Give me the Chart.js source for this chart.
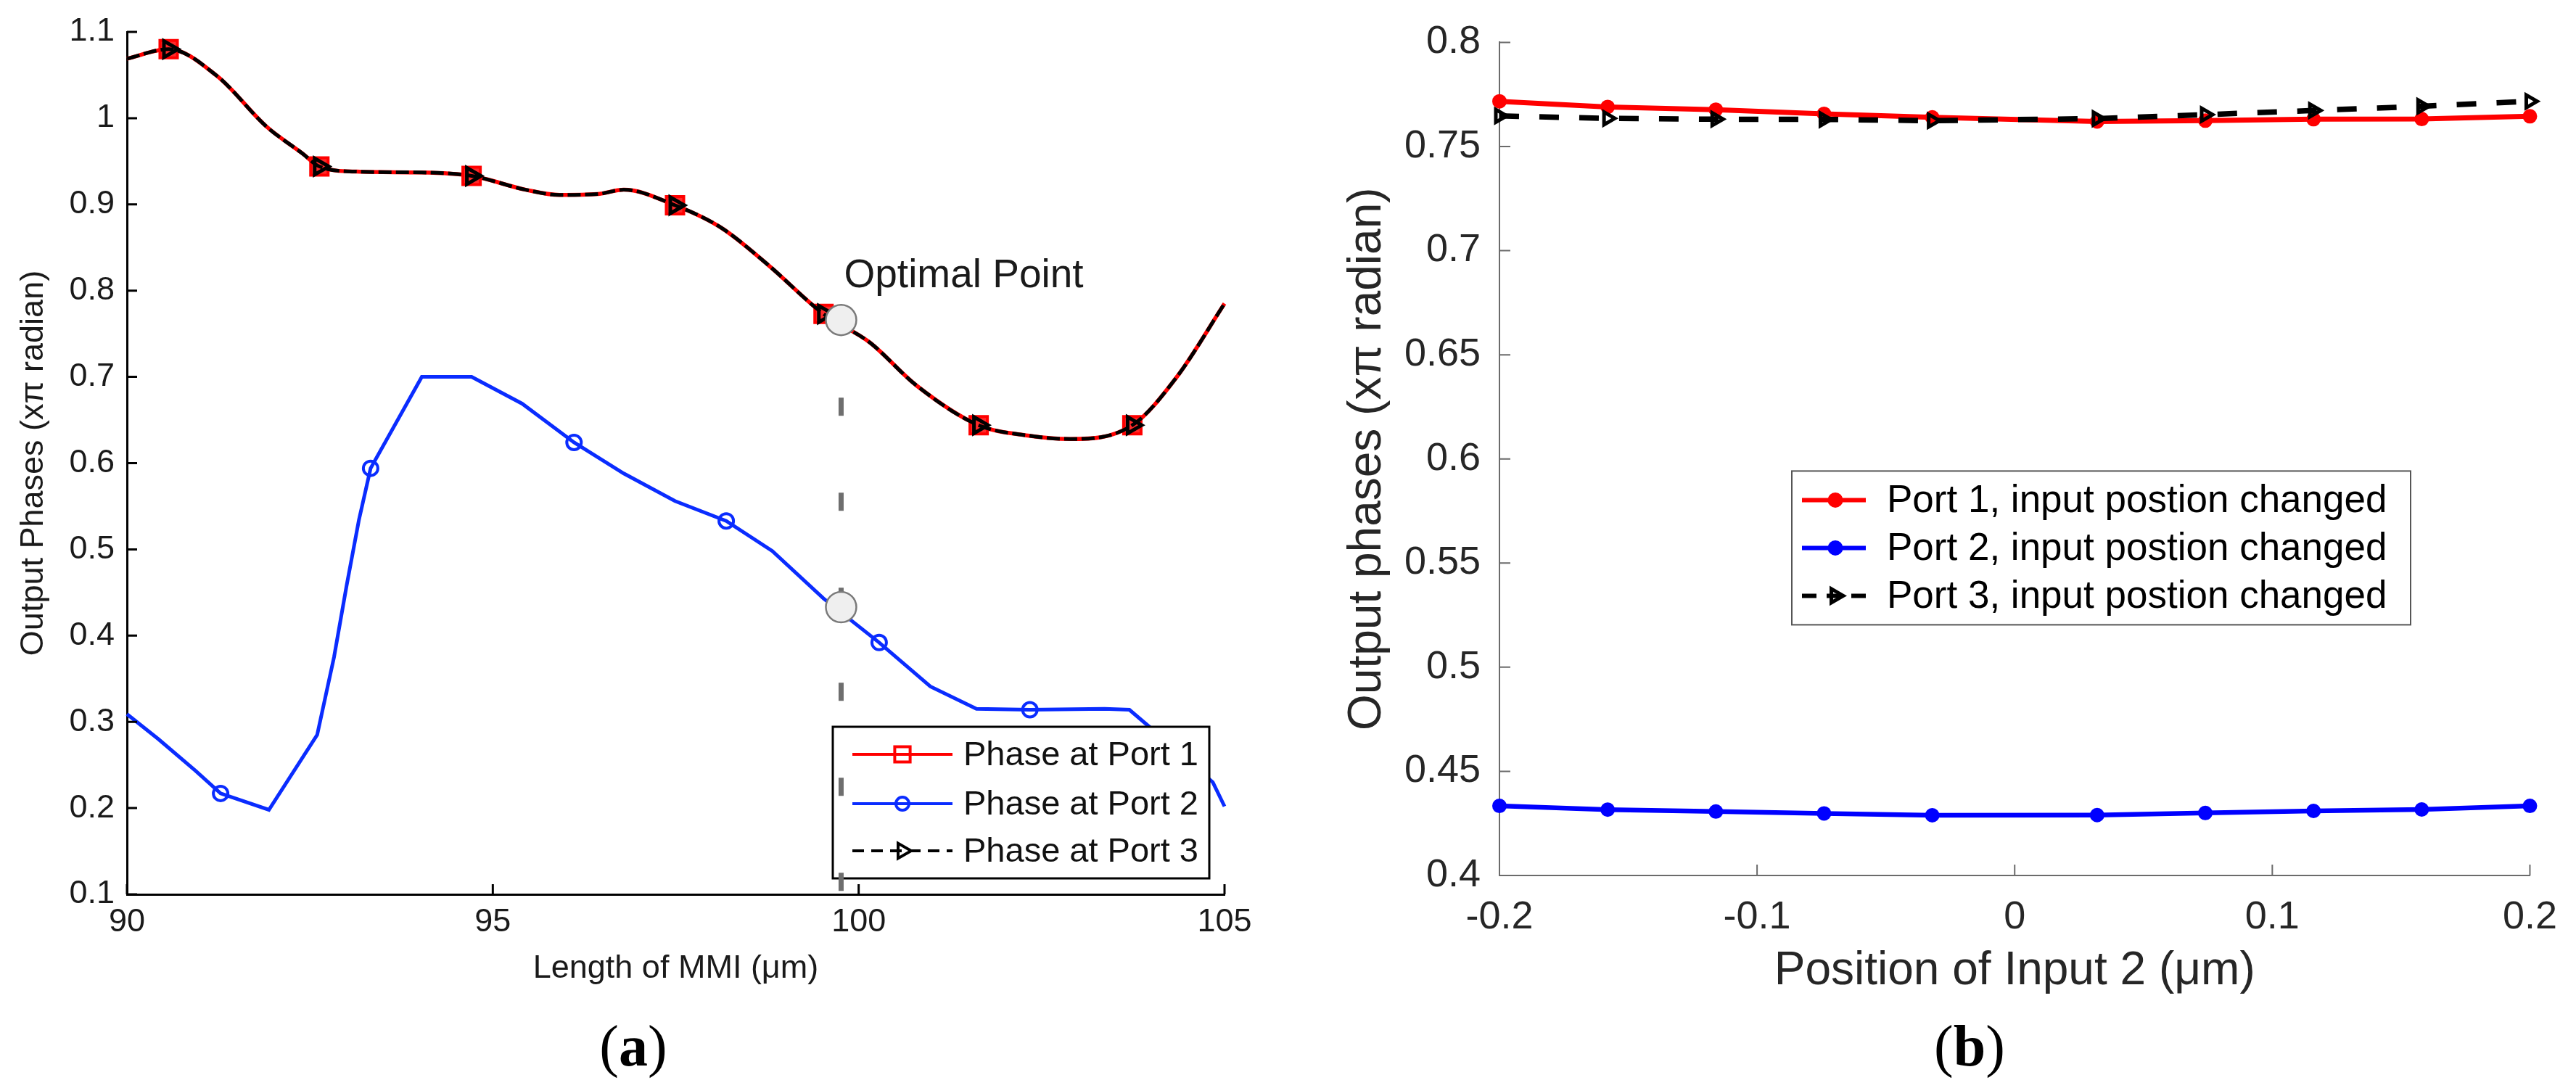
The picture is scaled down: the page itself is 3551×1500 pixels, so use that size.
<!DOCTYPE html>
<html><head><meta charset="utf-8">
<script src="https://cdn.jsdelivr.net/npm/chart.js@4.4.1/dist/chart.umd.min.js"></script>
<style>
html,body{margin:0;padding:0;background:#fff;width:3551px;height:1500px;overflow:hidden}
canvas{position:absolute;top:0}
#ca{left:0}
#cb{left:1775px}
.lab{position:absolute;top:1442px;transform:translate(-50%,-50%);font-family:"Liberation Serif","Times New Roman",serif;font-size:80px;color:#000;line-height:1;white-space:nowrap}
</style></head><body>
<canvas id="ca" width="1775" height="1500"></canvas>
<canvas id="cb" width="1776" height="1500"></canvas>
<div class="lab" style="left:873px">(<b>a</b>)</div>
<div class="lab" style="left:2715px">(<b>b</b>)</div>
<script>
// ---------- Panel (a) data ----------
const lengthA13 = [90.00, 90.57, 91.23, 91.91, 92.40, 92.63, 93.14, 94.03, 94.71, 95.45, 95.91, 96.43, 96.79, 97.49, 98.12, 98.76, 99.52, 100.15, 100.79, 101.64, 102.31, 102.89, 103.74, 104.34, 105.00];
const phasePort1A = [1.069, 1.080, 1.049, 0.990, 0.959, 0.944, 0.938, 0.937, 0.933, 0.917, 0.911, 0.912, 0.917, 0.899, 0.873, 0.830, 0.773, 0.740, 0.690, 0.644, 0.632, 0.628, 0.644, 0.699, 0.785];
const phasePort3A = [1.069, 1.080, 1.049, 0.990, 0.959, 0.944, 0.938, 0.937, 0.933, 0.917, 0.911, 0.912, 0.917, 0.899, 0.873, 0.830, 0.773, 0.740, 0.690, 0.644, 0.632, 0.628, 0.644, 0.699, 0.785];
const markersA13 = [90.57, 92.63, 94.71, 97.49, 99.52, 101.64, 103.74];

const lengthA2 = [90.00, 90.43, 90.94, 91.28, 91.94, 92.60, 92.83, 93.00, 93.17, 93.33, 94.03, 94.71, 95.40, 96.11, 96.79, 97.49, 98.19, 98.82, 99.52, 100.28, 100.98, 101.61, 102.34, 103.36, 103.70, 103.99, 104.84, 105.00];
const phasePort2A = [0.309, 0.280, 0.243, 0.217, 0.198, 0.285, 0.375, 0.457, 0.534, 0.594, 0.700, 0.700, 0.669, 0.624, 0.588, 0.556, 0.533, 0.498, 0.443, 0.392, 0.341, 0.315, 0.314, 0.315, 0.314, 0.293, 0.230, 0.202];
const markersA2 = [91.28, 93.33, 96.11, 98.19, 100.28, 102.34];

const optimalLength = 99.76;
const optimalPhases = [0.766, 0.433];
const optimalGuide = [0.676, 0.1];
const optimalLabel = 'Optimal Point';
const optimalLabelAt = [99.80, 0.817];

const xTicksA = [90, 95, 100, 105];
const yTicksA = [0.1, 0.2, 0.3, 0.4, 0.5, 0.6, 0.7, 0.8, 0.9, 1.0, 1.1];
const namesA = ['Phase at Port 1', 'Phase at Port 2', 'Phase at Port 3'];

// ---------- Panel (b) data ----------
const inputPos = [-0.2, -0.158, -0.116, -0.074, -0.032, 0.032, 0.074, 0.116, 0.158, 0.2];
const port1B = [0.7717, 0.7690, 0.7677, 0.7657, 0.7640, 0.7620, 0.7624, 0.7631, 0.7632, 0.7645];
const port2B = [0.4334, 0.4316, 0.4307, 0.4298, 0.4289, 0.4290, 0.4300, 0.4310, 0.4317, 0.4334];
const port3B = [0.7647, 0.7635, 0.7631, 0.7630, 0.7624, 0.7634, 0.7653, 0.7673, 0.7693, 0.7717];
const xTicksB = [-0.2, -0.1, 0, 0.1, 0.2];
const yTicksB = [0.4, 0.45, 0.5, 0.55, 0.6, 0.65, 0.7, 0.75, 0.8];
const namesB = ['Port 1, input postion changed', 'Port 2, input postion changed', 'Port 3, input postion changed'];

// ---------- helpers ----------
const FONT = '"Liberation Sans", Arial, Helvetica, sans-serif';
const fmt = v => String(+Number(v).toFixed(3));
const pts = (xs, ys) => xs.map((x, i) => ({x, y: ys[i]}));
const setTicks = arr => s => { s.ticks = arr.map(v => ({value: v})); };

function drawMarker(ctx, style, rot, r, bw, fill, stroke, x, y) {
  ctx.save();
  ctx.setLineDash([]);
  ctx.lineWidth = bw;
  ctx.fillStyle = fill;
  ctx.strokeStyle = stroke;
  Chart.helpers.drawPoint(ctx, {pointStyle: style, rotation: rot, radius: r, borderWidth: bw}, x, y);
  ctx.restore();
}

function drawLegend(chart, o) {
  const {ctx, chartArea: ca} = chart;
  const left = o.fromRight ? ca.right - o.dx - o.w : ca.left + o.dx;
  const top = o.fromBottom ? ca.bottom - o.dy - o.h : ca.top + o.dy;
  ctx.save();
  ctx.fillStyle = '#fff';
  ctx.fillRect(left, top, o.w, o.h);
  ctx.strokeStyle = o.borderColor;
  ctx.lineWidth = o.borderWidth;
  ctx.strokeRect(left, top, o.w, o.h);
  o.items.forEach((di, row) => {
    const ds = chart.data.datasets[di];
    const y = top + o.rows[row];
    ctx.save();
    ctx.strokeStyle = ds.borderColor;
    ctx.lineWidth = o.lineW[row];
    ctx.setLineDash(o.dashes[row] || []);
    ctx.beginPath();
    ctx.moveTo(left + o.line0, y);
    ctx.lineTo(left + o.line1, y);
    ctx.stroke();
    ctx.restore();
    drawMarker(ctx, ds.pointStyle, ds.pointRotation || 0, o.markR[row], o.markBW[row],
      o.markFill[row], ds.pointBorderColor, left + o.markX, y);
    ctx.fillStyle = o.textColor;
    ctx.font = o.fontSize + 'px ' + FONT;
    ctx.textBaseline = 'middle';
    ctx.textAlign = 'left';
    ctx.fillText(ds.label, left + o.textX, y + 2);
  });
  ctx.restore();
}

const inTicks = {
  id: 'inTicks',
  afterDraw(chart, args, o) {
    const {ctx, chartArea: ca, scales: {x, y}} = chart;
    ctx.save();
    ctx.strokeStyle = o.color;
    ctx.lineWidth = o.width;
    ctx.beginPath();
    x.ticks.forEach(t => { const p = x.getPixelForValue(t.value); ctx.moveTo(p, ca.bottom); ctx.lineTo(p, ca.bottom - o.len); });
    y.ticks.forEach(t => { const p = y.getPixelForValue(t.value); ctx.moveTo(ca.left, p); ctx.lineTo(ca.left + o.len, p); });
    ctx.stroke();
    ctx.restore();
  }
};

const boxLegend = {
  id: 'boxLegend',
  afterDatasetDraw(chart, args, o) { if (o.afterIndex !== undefined && args.index === o.afterIndex) drawLegend(chart, o); },
  afterDatasetsDraw(chart, args, o) { if (o.afterIndex === undefined) drawLegend(chart, o); }
};

const optLabel = {
  id: 'optLabel',
  afterDatasetsDraw(chart, args, o) {
    if (!o.text) return;
    const {ctx, scales: {x, y}} = chart;
    ctx.save();
    ctx.fillStyle = '#1a1a1a';
    ctx.font = o.size + 'px ' + FONT;
    ctx.textBaseline = 'middle';
    ctx.textAlign = 'left';
    ctx.fillText(o.text, x.getPixelForValue(o.at[0]), y.getPixelForValue(o.at[1]));
    ctx.restore();
  }
};

Chart.register(inTicks, boxLegend, optLabel);

// ---------- Chart (a) ----------
const colA = '#1a1a1a';
new Chart(document.getElementById('ca'), {
  type: 'line',
  data: {
    datasets: [
      { label: namesA[0], data: pts(lengthA13, phasePort1A), borderColor: '#ff0000', borderWidth: 5.5,
        pointStyle: 'rect', pointRadius: lengthA13.map(x => markersA13.includes(x) ? 17 : 0),
        pointBorderColor: '#ff0000', pointBackgroundColor: '#ff2a2a', pointBorderWidth: 4,
        cubicInterpolationMode: 'monotone', order: 3, clip: false },
      { label: namesA[1], data: pts(lengthA2, phasePort2A), borderColor: '#0a2cff', borderWidth: 5,
        pointStyle: 'circle', pointRadius: lengthA2.map(x => markersA2.includes(x) ? 10 : 0),
        pointBorderColor: '#0a2cff', pointBackgroundColor: 'rgba(255,255,255,0)', pointBorderWidth: 4,
        tension: 0, order: 4, clip: false },
      { label: namesA[2], data: pts(lengthA13, phasePort3A), borderColor: '#000000', borderWidth: 5, borderDash: [18, 6],
        pointStyle: 'triangle', pointRotation: 90, pointRadius: lengthA13.map(x => markersA13.includes(x) ? 13 : 0),
        pointBorderColor: '#000000', pointBackgroundColor: 'rgba(255,255,255,0)', pointBorderWidth: 5,
        cubicInterpolationMode: 'monotone', order: 2, clip: false },
      { label: 'guide', data: optimalGuide.map(v => ({x: optimalLength, y: v})), borderColor: '#6e6e6e', borderWidth: 7,
        borderDash: [25, 106], pointRadius: 0, order: 1, clip: false },
      { label: 'optimal', data: optimalPhases.map(v => ({x: optimalLength, y: v})), showLine: false,
        pointStyle: 'circle', pointRadius: 21, pointBackgroundColor: '#efefef', pointBorderColor: '#7a7a7a',
        pointBorderWidth: 2.5, order: 0, clip: false }
    ]
  },
  options: {
    responsive: false, animation: false, devicePixelRatio: 1, events: [],
    layout: { padding: { top: 39, right: 87, left: 0, bottom: 0 } },
    plugins: {
      legend: { display: false }, tooltip: { enabled: false },
      inTicks: { color: '#000', width: 3, len: 14 },
      boxLegend: { afterIndex: 2, items: [0, 1, 2], fromRight: true, fromBottom: true, dx: 21, dy: 22, w: 519, h: 209,
        borderColor: '#000', borderWidth: 3, rows: [38, 106, 171], line0: 27, line1: 165, markX: 96, textX: 180,
        lineW: [4, 4, 4], markR: [15, 9, 12], markBW: [4, 4, 4],
        markFill: ['rgba(255,255,255,0)', 'rgba(255,255,255,0)', 'rgba(255,255,255,0)'],
        dashes: [[], [], [16, 10]], fontSize: 47, textColor: '#111' },
      optLabel: { text: optimalLabel, at: optimalLabelAt, size: 55 }
    },
    scales: {
      x: { type: 'linear', min: 90, max: 105, afterBuildTicks: setTicks(xTicksA),
        afterFit: s => { s.height = 267; },
        ticks: { font: { family: FONT, size: 45 }, color: colA, padding: 12, maxRotation: 0, autoSkip: false, callback: fmt },
        grid: { display: false, drawTicks: false }, border: { display: true, color: '#000', width: 3 },
        title: { display: true, text: 'Length of MMI (μm)', font: { family: FONT, size: 45 }, color: colA, padding: { top: 0, bottom: 137 } } },
      y: { type: 'linear', min: 0.1, max: 1.1, afterBuildTicks: setTicks(yTicksA),
        afterFit: s => { s.width = 175; },
        ticks: { font: { family: FONT, size: 45 }, color: colA, padding: 17, autoSkip: false, callback: fmt },
        grid: { display: false, drawTicks: false }, border: { display: true, color: '#000', width: 3 },
        title: { display: true, text: 'Output Phases (xπ radian)', font: { family: FONT, size: 45 }, color: colA, padding: { top: 20, bottom: 0 } } }
    }
  }
});

// ---------- Chart (b) ----------
const colB = '#262626';
new Chart(document.getElementById('cb'), {
  type: 'line',
  data: {
    datasets: [
      { label: namesB[0], data: pts(inputPos, port1B), borderColor: '#ff0000', borderWidth: 7,
        pointStyle: 'circle', pointRadius: 8.5, pointBorderColor: '#ff0000', pointBackgroundColor: '#ff0000', pointBorderWidth: 3,
        tension: 0, order: 2, clip: false },
      { label: namesB[1], data: pts(inputPos, port2B), borderColor: '#0000ff', borderWidth: 6.5,
        pointStyle: 'circle', pointRadius: 8.5, pointBorderColor: '#0000ff', pointBackgroundColor: '#0000ff', pointBorderWidth: 3,
        tension: 0, order: 1, clip: false },
      { label: namesB[2], data: pts(inputPos, port3B), borderColor: '#000000', borderWidth: 7.5, borderDash: [27, 28],
        pointStyle: 'triangle', pointRotation: 90, pointRadius: 10, pointBorderColor: '#000000',
        pointBackgroundColor: 'rgba(255,255,255,0)', pointBorderWidth: 5, tension: 0, order: 0, clip: false }
    ]
  },
  options: {
    responsive: false, animation: false, devicePixelRatio: 1, events: [],
    layout: { padding: { top: 46, right: 56, left: 0, bottom: 0 } },
    plugins: {
      legend: { display: false }, tooltip: { enabled: false },
      inTicks: { color: '#6b6b6b', width: 2, len: 15 },
      boxLegend: { items: [0, 1, 2], fromRight: false, fromBottom: false, dx: 403, dy: 591, w: 853, h: 212,
        borderColor: '#555', borderWidth: 2, rows: [40, 106, 172], line0: 14, line1: 102, markX: 60, textX: 131,
        lineW: [6, 6, 6], markR: [9, 9, 11], markBW: [3, 3, 5],
        markFill: ['#ff0000', '#0000ff', 'rgba(255,255,255,0)'],
        dashes: [[], [], [20, 14]], fontSize: 53, textColor: '#000' },
      optLabel: { text: '' }
    },
    scales: {
      x: { type: 'linear', min: -0.2, max: 0.2, afterBuildTicks: setTicks(xTicksB),
        afterFit: s => { s.height = 293; },
        ticks: { font: { family: FONT, size: 54 }, color: colB, padding: 26, maxRotation: 0, autoSkip: false, callback: fmt },
        grid: { display: false, drawTicks: false }, border: { display: true, color: '#6b6b6b', width: 2 },
        title: { display: true, text: 'Position of Input 2 (μm)', font: { family: FONT, size: 64 }, color: colB, padding: { top: 0, bottom: 122 } } },
      y: { type: 'linear', min: 0.4, max: 0.8, afterBuildTicks: setTicks(yTicksB),
        afterFit: s => { s.width = 292; },
        ticks: { font: { family: FONT, size: 54 }, color: colB, padding: 26, autoSkip: false, callback: fmt },
        grid: { display: false, drawTicks: false }, border: { display: true, color: '#6b6b6b', width: 2 },
        title: { display: true, text: 'Output phases (xπ radian)', font: { family: FONT, size: 64 }, color: colB, padding: { top: 72, bottom: 0 } } }
    }
  }
});
</script>
</body></html>
